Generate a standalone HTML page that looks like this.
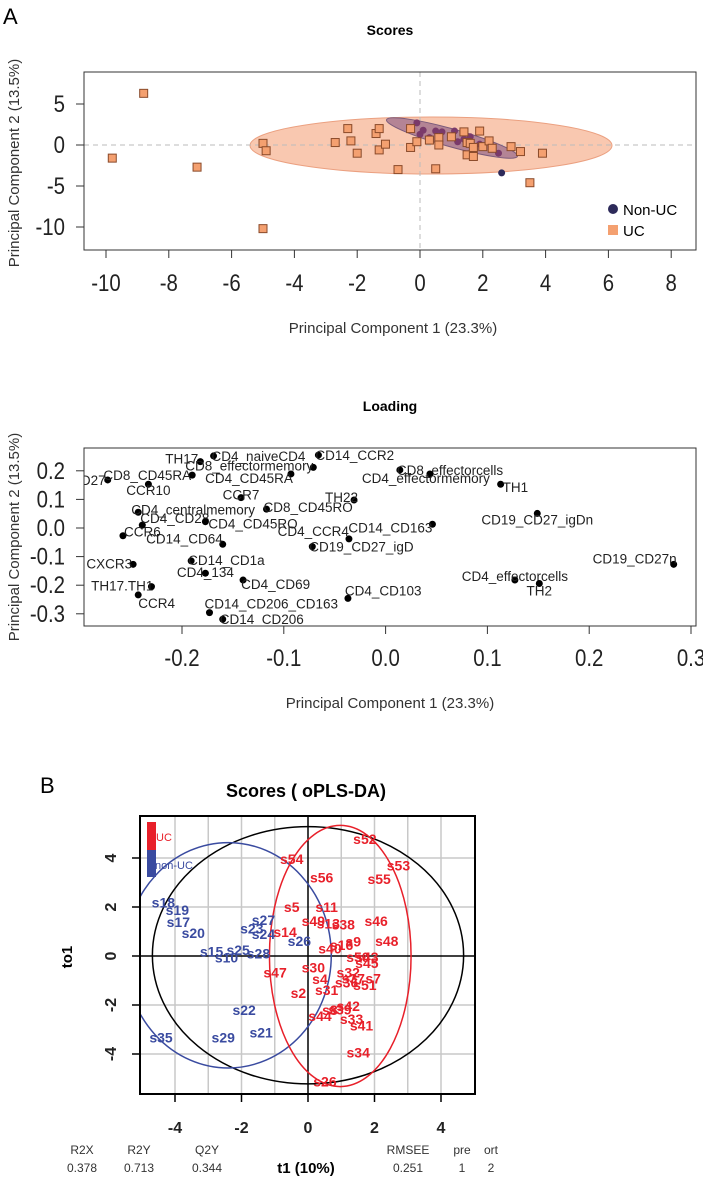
<!DOCTYPE html>
<html><head><meta charset="utf-8">
<style>
html,body{margin:0;padding:0;background:#fff;}
svg{display:block;font-family:"Liberation Sans",Arial,sans-serif;}
</style></head>
<body>
<svg id="fig" width="703" height="1179" viewBox="0 0 703 1179" xmlns="http://www.w3.org/2000/svg">
<defs>
<clipPath id="c1"><rect x="84" y="72" width="612" height="178"/></clipPath>
<clipPath id="c2"><rect x="84" y="448" width="612" height="178"/></clipPath>
<clipPath id="c3"><rect x="140" y="816" width="335" height="278"/></clipPath>
</defs>
<text x="3" y="24" font-size="22">A</text>
<text x="390" y="35" font-size="14" font-weight="bold" text-anchor="middle">Scores</text>
<g id="p1"></g>
<rect x="84" y="72" width="612" height="178" fill="none" stroke="#333" stroke-width="1"/>
<text x="393" y="333" font-size="15" text-anchor="middle" fill="#333">Principal Component 1 (23.3%)</text>
<text transform="translate(19,163) rotate(-90)" font-size="15" text-anchor="middle" fill="#333">Principal Component 2 (13.5%)</text>
<g>
<circle cx="613" cy="209" r="5" fill="#2d2a5a"/>
<text x="623" y="215" font-size="15">Non-UC</text>
<rect x="608" y="225" width="10" height="10" fill="#f4a070"/>
<text x="623" y="236" font-size="15">UC</text>
</g>

<text x="390" y="411" font-size="14" font-weight="bold" text-anchor="middle">Loading</text>
<g id="p2"></g>
<rect x="84" y="448" width="612" height="178" fill="none" stroke="#333" stroke-width="1"/>
<text x="390" y="708" font-size="15" text-anchor="middle" fill="#333">Principal Component 1 (23.3%)</text>
<text transform="translate(19,537) rotate(-90)" font-size="15" text-anchor="middle" fill="#333">Principal Component 2 (13.5%)</text>

<text x="40" y="793" font-size="22">B</text>
<text x="306" y="797" font-size="18" font-weight="bold" text-anchor="middle">Scores ( oPLS-DA)</text>
<g id="p3"></g>
<rect x="140" y="816" width="335" height="278" fill="none" stroke="#000" stroke-width="2"/>
<g>
<rect x="147" y="822" width="9" height="28" fill="#e8202a"/>
<rect x="147" y="850" width="9" height="27" fill="#3a4ba0"/>
<text x="156" y="841" font-size="11" fill="#e8202a">UC</text>
<text x="155" y="869" font-size="11" fill="#3a4ba0">non-UC</text>
</g>
<text transform="translate(72,957) rotate(-90)" font-size="15" font-weight="bold" text-anchor="middle">to1</text>
<g font-size="12" fill="#333">
<text x="82" y="1154" text-anchor="middle">R2X</text><text x="82" y="1172" text-anchor="middle">0.378</text>
<text x="139" y="1154" text-anchor="middle">R2Y</text><text x="139" y="1172" text-anchor="middle">0.713</text>
<text x="207" y="1154" text-anchor="middle">Q2Y</text><text x="207" y="1172" text-anchor="middle">0.344</text>
<text x="408" y="1154" text-anchor="middle">RMSEE</text><text x="408" y="1172" text-anchor="middle">0.251</text>
<text x="462" y="1154" text-anchor="middle">pre</text><text x="462" y="1172" text-anchor="middle">1</text>
<text x="491" y="1154" text-anchor="middle">ort</text><text x="491" y="1172" text-anchor="middle">2</text>
</g>
<text x="306" y="1173" font-size="15" font-weight="bold" text-anchor="middle">t1 (10%)</text>
</svg>
<script>
// ---- Panel A scores data ----
const ucX = [-8.8,-9.8,-7.1,-5.0,-5.0,-4.9,-2.7,-2.3,-2.2,-2.0,-1.4,-1.3,-1.3,-1.1,-0.7,-0.3,-0.3,-0.1,0.5,0.3,0.6,0.6,1.0,1.4,1.5,1.6,1.5,1.7,1.7,1.9,2.0,2.2,2.3,2.9,3.2,3.5,3.9];
const ucY = [6.3,-1.6,-2.7,-10.2,0.2,-0.7,0.3,2.0,0.5,-1.0,1.4,2.0,-0.6,0.1,-3.0,2.0,-0.3,0.4,-2.9,0.6,0.9,0.0,1.0,1.6,0.3,0.2,-1.2,-0.3,-1.4,1.7,-0.2,0.5,-0.4,-0.2,-0.8,-4.6,-1.0];
const nonX = [-0.1,0.0,0.1,0.3,0.5,0.7,1.0,1.1,1.2,1.4,1.6,2.3,2.5,2.6,1.9];
const nonY = [2.7,1.3,1.8,0.9,1.7,1.6,1.1,1.7,0.4,0.7,1.0,-0.3,-1.0,-3.4,0.1];
const scoreXTicks = [-10,-8,-6,-4,-2,0,2,4,6,8];
const scoreYTicks = [5,0,-5,-10];

// ---- Panel A loading data ----
const loadNames = ["CD27","CD8_CD45RA","TH17","CD4_naiveCD4","CCR10","CD8_effectormemory","CD4_CD45RA","CD14_CCR2","CD8_effectorcells","CD4_effectormemory","TH1","CCR7","TH22","CD4_centralmemory","CD8_CD45RO","CD4_CD28","CD4_CD45RO","CCR6","CD14_CD64","CD14_CD163","CD4_CCR4","CD19_CD27_igD","CD19_CD27_igDn","CD19_CD27n","CXCR3","CD14_CD1a","CD4_134","CD4_CD69","TH17.TH1","CCR4","CD4_effectorcells","TH2","CD4_CD103","CD14_CD206_CD163","CD14_CD206"];
const loadX = [-0.273,-0.190,-0.182,-0.169,-0.233,-0.071,-0.093,-0.066,0.014,0.0435,0.113,-0.142,-0.031,-0.243,-0.117,-0.239,-0.177,-0.258,-0.160,0.046,-0.036,-0.072,0.149,0.283,-0.248,-0.191,-0.177,-0.140,-0.230,-0.243,0.127,0.151,-0.037,-0.173,-0.160];
const loadY = [0.168,0.185,0.232,0.252,0.153,0.212,0.189,0.255,0.203,0.189,0.153,0.106,0.098,0.055,0.066,0.010,0.022,-0.027,-0.057,0.013,-0.038,-0.065,0.051,-0.127,-0.127,-0.115,-0.158,-0.182,-0.205,-0.234,-0.182,-0.194,-0.246,-0.296,-0.319];
const loadXTicks = [-0.2,-0.1,0.0,0.1,0.2,0.3];
const loadYTicks = [0.2,0.1,0.0,-0.1,-0.2,-0.3];
const loadXTickLabels = ["-0.2","-0.1","0.0","0.1","0.2","0.3"];
const loadYTickLabels = ["0.2","0.1","0.0","-0.1","-0.2","-0.3"];

// ---- Panel B data ----
const blueNames = ["s18","s19","s17","s20","s15","s25","s10","s28","s27","s23","s24","s26","s22","s21","s29","s35"];
const blueX = [-4.35,-3.93,-3.90,-3.45,-2.90,-2.10,-2.45,-1.49,-1.34,-1.69,-1.34,-0.26,-1.92,-1.41,-2.55,-4.42];
const blueY = [2.18,1.88,1.39,0.93,0.18,0.24,-0.07,0.10,1.47,1.13,0.90,0.61,-2.20,-3.12,-3.33,-3.33];
const redNames = ["s52","s54","s53","s56","s55","s5","s11","s46","s48","s14","s49","s13","s38","s9","s40","s16","s30","s47","s43","s45","s50","s32","s4","s36","s37","s7","s51","s2","s31","s42","s39","s8","s44","s33","s41","s34","s26"];
const redX = [1.71,-0.49,2.72,0.41,2.14,-0.49,0.56,2.05,2.37,-0.69,0.16,0.61,1.06,1.36,0.66,1.01,0.16,-0.99,1.77,1.77,1.50,1.21,0.36,1.16,1.36,1.96,1.71,-0.29,0.56,1.21,0.96,0.66,0.36,1.31,1.61,1.51,0.51];
const redY = [4.78,3.95,3.69,3.20,3.14,2.01,2.01,1.43,0.61,0.97,1.43,1.33,1.29,0.60,0.31,0.44,-0.46,-0.67,-0.05,-0.29,-0.04,-0.67,-0.94,-1.08,-0.91,-0.91,-1.18,-1.50,-1.39,-2.04,-2.18,-2.20,-2.44,-2.58,-2.84,-3.93,-5.13];
const bXTicks = [-4,-2,0,2,4];
const bYTicks = [4,2,0,-2,-4];
const bGridX = [-4,-3,-2,-1,1,2,3,4];
const bGridY = [4,2,-2,-4];

// label placement (layout, not data): [anchor, dx, dy]
const loadLayout = [["end",-2,5],["end",-1,5],["end",-2,2],["start",-2,5],["middle",0,11],["end",0,3],["end",2,9],["start",-3,5],["start",-3,5],["start",-68,9],["start",2,8],["middle",0,2],["end",4,2],["start",-7,2],["start",-3,3],["start",-2,-2],["start",3,7],["start",1,1],["end",0,-1],["end",0,8],["end",0,-3],["start",-3,5],["middle",0,11],["end",3,-1],["end",-1,4],["start",-3,4],["middle",0,4],["start",-2,9],["end",2,4],["start",0,13],["middle",0,1],["middle",0,12],["start",-3,-3],["start",-5,-4],["start",-3,5]];

const NS = "http://www.w3.org/2000/svg";
function mk(parent, tag, attrs){ const e=document.createElementNS(NS,tag); for(const k in attrs) e.setAttribute(k,attrs[k]); parent.appendChild(e); return e; }

// scales
const sx1 = v => 420 + 31.4*v, sy1 = v => 145 - 8.2*v;
const sx2 = v => 385.6 + 1018*v, sy2 = v => 528 - 286*v;
const sx3 = v => 308 + 33.25*v, sy3 = v => 956 - 24.5*v;

// ---- Panel A scores ----
const p1 = document.getElementById('p1');
const g1 = mk(p1,'g',{'clip-path':'url(#c1)'});
let el;
el = mk(g1,'ellipse',{cx:431,cy:145.5,rx:181,ry:28.5,fill:'#f9c8b0',stroke:'#eba080','stroke-width':1});


el = mk(g1,'line',{x1:sx1(0),x2:sx1(0),y1:72,y2:250,stroke:'#bbb','stroke-dasharray':'5,4'});


el = mk(g1,'line',{x1:84,x2:696,y1:sy1(0),y2:sy1(0),stroke:'#bbb','stroke-dasharray':'5,4'});


el = mk(g1,'ellipse',{cx:452,cy:138,rx:68,ry:9,fill:'#a87890','fill-opacity':0.85,stroke:'#7a5a7a',transform:'rotate(15.6 452 138)'});


for(let i=0;i<nonX.length;i++){
  el = mk(g1,'circle',{cx:sx1(nonX[i]),cy:sy1(nonY[i]),r:3.5,fill:nonY[i]<-3?'#2d2a5a':'#7a3a6a'});
  
  
}
for(let i=0;i<ucX.length;i++){
  el = mk(g1,'rect',{x:sx1(ucX[i])-4,y:sy1(ucY[i])-4,width:8,height:8,fill:'#f4a070',stroke:'#8a4a2a','stroke-width':1});
  
  
}
scoreXTicks.forEach(t=>{
  el = mk(p1,'line',{x1:sx1(t),x2:sx1(t),y1:250,y2:258,stroke:'#333'});
  
  
  el = mk(p1,'text',{transform:'translate('+sx1(t)+',291) scale(0.85,1)','font-size':24,'text-anchor':'middle',fill:'#222'});
  el.textContent = String(t);
  
  
});
scoreYTicks.forEach(t=>{
  el = mk(p1,'line',{x1:76,x2:84,y1:sy1(t),y2:sy1(t),stroke:'#333'});
  
  
  el = mk(p1,'text',{transform:'translate(65,'+(sy1(t)+8)+') scale(0.85,1)','font-size':24,'text-anchor':'end',fill:'#222'});
  el.textContent = String(t);
  
  
});

// ---- Loading ----
const p2 = document.getElementById('p2');
const g2 = mk(p2,'g',{'clip-path':'url(#c2)'});
for(let i=0;i<loadNames.length;i++){
  const px=sx2(loadX[i]), py=sy2(loadY[i]), L=loadLayout[i];
  el = mk(g2,'circle',{cx:px,cy:py,r:3.5,fill:'#000'});
  
  
  el = mk(g2,'text',{x:px+L[1],y:py+L[2],'font-size':13.5,'text-anchor':L[0],fill:'#222'});
  el.textContent = loadNames[i];
  
  
}
loadXTicks.forEach((t,i)=>{
  el = mk(p2,'line',{x1:sx2(t),x2:sx2(t),y1:626,y2:634,stroke:'#333'});
  
  
  el = mk(p2,'text',{transform:'translate('+sx2(t)+',666) scale(0.85,1)','font-size':24,'text-anchor':'middle',fill:'#222'});
  el.textContent = loadXTickLabels[i];
  
  
});
loadYTicks.forEach((t,i)=>{
  el = mk(p2,'line',{x1:76,x2:84,y1:sy2(t),y2:sy2(t),stroke:'#333'});
  
  
  el = mk(p2,'text',{transform:'translate(65,'+(sy2(t)+8)+') scale(0.85,1)','font-size':24,'text-anchor':'end',fill:'#222'});
  el.textContent = loadYTickLabels[i];
  
  
});

// ---- Panel B ----
const p3 = document.getElementById('p3');
const g3 = mk(p3,'g',{'clip-path':'url(#c3)'});
bGridX.forEach(t=>{
  el = mk(g3,'line',{x1:sx3(t),x2:sx3(t),y1:816,y2:1094,stroke:'#c8c8c8','stroke-width':1.5});
  
  
});
bGridY.forEach(t=>{
  el = mk(g3,'line',{x1:140,x2:475,y1:sy3(t),y2:sy3(t),stroke:'#c8c8c8','stroke-width':1.5});
  
  
});
el = mk(g3,'line',{x1:sx3(0),x2:sx3(0),y1:816,y2:1094,stroke:'#000','stroke-width':1.5});


el = mk(g3,'line',{x1:140,x2:475,y1:sy3(0),y2:sy3(0),stroke:'#000','stroke-width':1.5});


el = mk(g3,'ellipse',{cx:sx3(0),cy:sy3(0.03),rx:4.68*33.25,ry:5.25*24.5,fill:'none',stroke:'#000','stroke-width':1.5});


el = mk(g3,'ellipse',{cx:sx3(-2.4),cy:sy3(0.03),rx:3.1*33.25,ry:4.6*24.5,fill:'none',stroke:'#3a4ba0','stroke-width':1.5});


el = mk(g3,'ellipse',{cx:sx3(0.97),cy:sy3(0),rx:2.13*33.25,ry:5.33*24.5,fill:'none',stroke:'#e8202a','stroke-width':1.5});


for(let i=0;i<blueNames.length;i++){
  el = mk(g3,'text',{x:sx3(blueX[i]),y:sy3(blueY[i])+5,'font-size':14,'font-weight':'bold','text-anchor':'middle',fill:'#3a4ba0'});
  el.textContent = blueNames[i];
  
  
}
for(let i=0;i<redNames.length;i++){
  el = mk(g3,'text',{x:sx3(redX[i]),y:sy3(redY[i])+5,'font-size':14,'font-weight':'bold','text-anchor':'middle',fill:'#e8202a'});
  el.textContent = redNames[i];
  
  
}
bXTicks.forEach(t=>{
  el = mk(p3,'line',{x1:sx3(t),x2:sx3(t),y1:1094,y2:1102,stroke:'#000','stroke-width':1.5});
  
  
  el = mk(p3,'text',{x:sx3(t),y:1133,'font-size':16,'font-weight':'bold','text-anchor':'middle',fill:'#222'});
  el.textContent = String(t);
  
  
});
bYTicks.forEach(t=>{
  el = mk(p3,'line',{x1:132,x2:140,y1:sy3(t),y2:sy3(t),stroke:'#000','stroke-width':1.5});
  
  
  el = mk(p3,'text',{transform:'translate(116,'+sy3(t)+') rotate(-90)','font-size':16,'font-weight':'bold','text-anchor':'middle',fill:'#222'});
  el.textContent = String(t);
  
  
});
</script>
</body></html>
